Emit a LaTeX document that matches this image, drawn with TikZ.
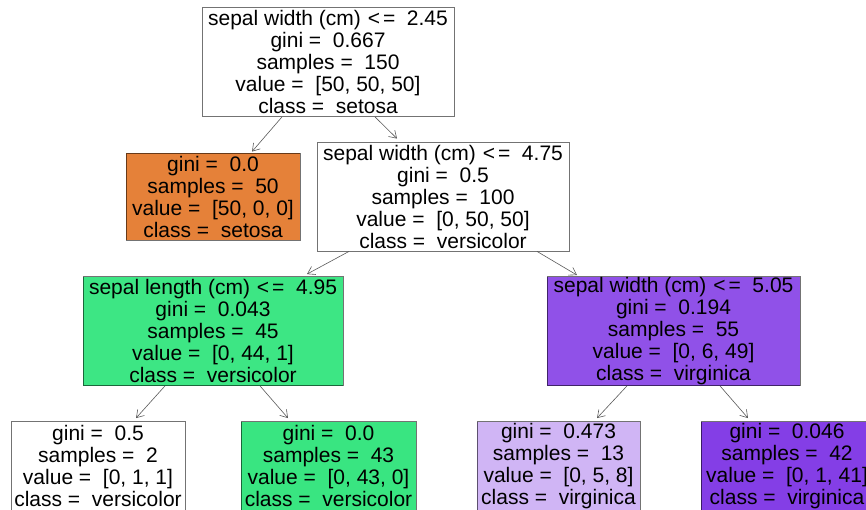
\documentclass[tikz,border=0pt]{standalone}
\usepackage{fontspec}
\setmainfont{Liberation Sans}
\usetikzlibrary{arrows.meta,calc}

% node fill colours (class colour blended by purity)
\definecolor{setosaC}{RGB}{229,129,57}
\definecolor{versiA}{RGB}{61,230,132}
\definecolor{versiB}{RGB}{57,229,129}
\definecolor{virgA}{RGB}{144,81,232}
\definecolor{virgB}{RGB}{208,181,245}
\definecolor{virgC}{RGB}{132,62,230}

\tikzset{
  treenode/.style={draw=black, draw opacity=0.55, line width=0.8pt, inner sep=0pt,
    align=center, font=\fontsize{21}{22}\selectfont, text=black},
  split/.style={treenode, minimum height=109pt},
  leaf/.style={treenode, minimum height=87pt},
  lowleaf/.style={treenode, minimum height=89.5pt},
  edge/.style={draw=black!65, line width=0.6pt, -{Straight Barb[length=7pt,width=9pt]}}
}
\newcommand{\cmple}{\kern1pt<\kern3pt=}

\begin{document}
\begin{tikzpicture}[x=1pt,y=-1pt]
\useasboundingbox (0,0) rectangle (866,509);

% splits
\node[split, minimum width=252pt] (root) at (328,62)
  {sepal width (cm) \cmple\ \ 2.45\\gini =\ \ 0.667\\samples =\ \ 150\\value =\ \ [50, 50, 50]\\class =\ \ setosa};
\node[split, minimum width=252pt] (n2) at (443,196.5)
  {sepal width (cm) \cmple\ \ 4.75\\gini =\ \ 0.5\\samples =\ \ 100\\value =\ \ [0, 50, 50]\\class =\ \ versicolor};
\node[split, minimum width=260pt, fill=versiA] (gsplit) at (213,331)
  {sepal length (cm) \cmple\ \ 4.95\\gini =\ \ 0.043\\samples =\ \ 45\\value =\ \ [0, 44, 1]\\class =\ \ versicolor};
\node[split, minimum width=253pt, fill=virgA] (psplit) at (673.5,331)
  {sepal width (cm) \cmple\ \ 5.05\\gini =\ \ 0.194\\samples =\ \ 55\\value =\ \ [0, 6, 49]\\class =\ \ virginica};

% leaves
\node[leaf, minimum width=174pt, fill=setosaC] (setosa) at (213,196.5)
  {gini =\ \ 0.0\\samples =\ \ 50\\value =\ \ [50, 0, 0]\\class =\ \ setosa};
\node[lowleaf, minimum width=174pt] (lw) at (98,466.25)
  {gini =\ \ 0.5\\samples =\ \ 2\\value =\ \ [0, 1, 1]\\class =\ \ versicolor};
\node[lowleaf, minimum width=175pt, fill=versiB] (lg) at (328.5,466.25)
  {gini =\ \ 0.0\\samples =\ \ 43\\value =\ \ [0, 43, 0]\\class =\ \ versicolor};
\node[lowleaf, minimum width=163pt, fill=virgB] (lp) at (558.5,466.25)
  {gini =\ \ 0.473\\samples =\ \ 13\\value =\ \ [0, 5, 8]\\class =\ \ virginica};
\node[lowleaf, minimum width=172pt, fill=virgC] (ld) at (787,466.25)
  {gini =\ \ 0.046\\samples =\ \ 42\\value =\ \ [0, 1, 41]\\class =\ \ virginica};

% edges
\draw[edge] ($(root.south)+(-46,0)$) -- ($(setosa.north)+(39,-1)$);
\draw[edge] ($(root.south)+(47,0)$) -- ($(n2.north)+(-46,-3)$);
\draw[edge] ($(n2.south)+(-94,0)$) -- ($(gsplit.north)+(94,-2)$);
\draw[edge] ($(n2.south)+(94,0)$) -- ($(psplit.north)+(-96.5,-1)$);
\draw[edge] ($(gsplit.south)+(-48,0)$) -- ($(lw.north)+(38,-3)$);
\draw[edge] ($(gsplit.south)+(47,0)$) -- ($(lg.north)+(-40.5,-3)$);
\draw[edge] ($(psplit.south)+(-46.5,0)$) -- ($(lp.north)+(38.5,-3)$);
\draw[edge] ($(psplit.south)+(46.5,0)$) -- ($(ld.north)+(-39,-3)$);
\end{tikzpicture}
\end{document}
